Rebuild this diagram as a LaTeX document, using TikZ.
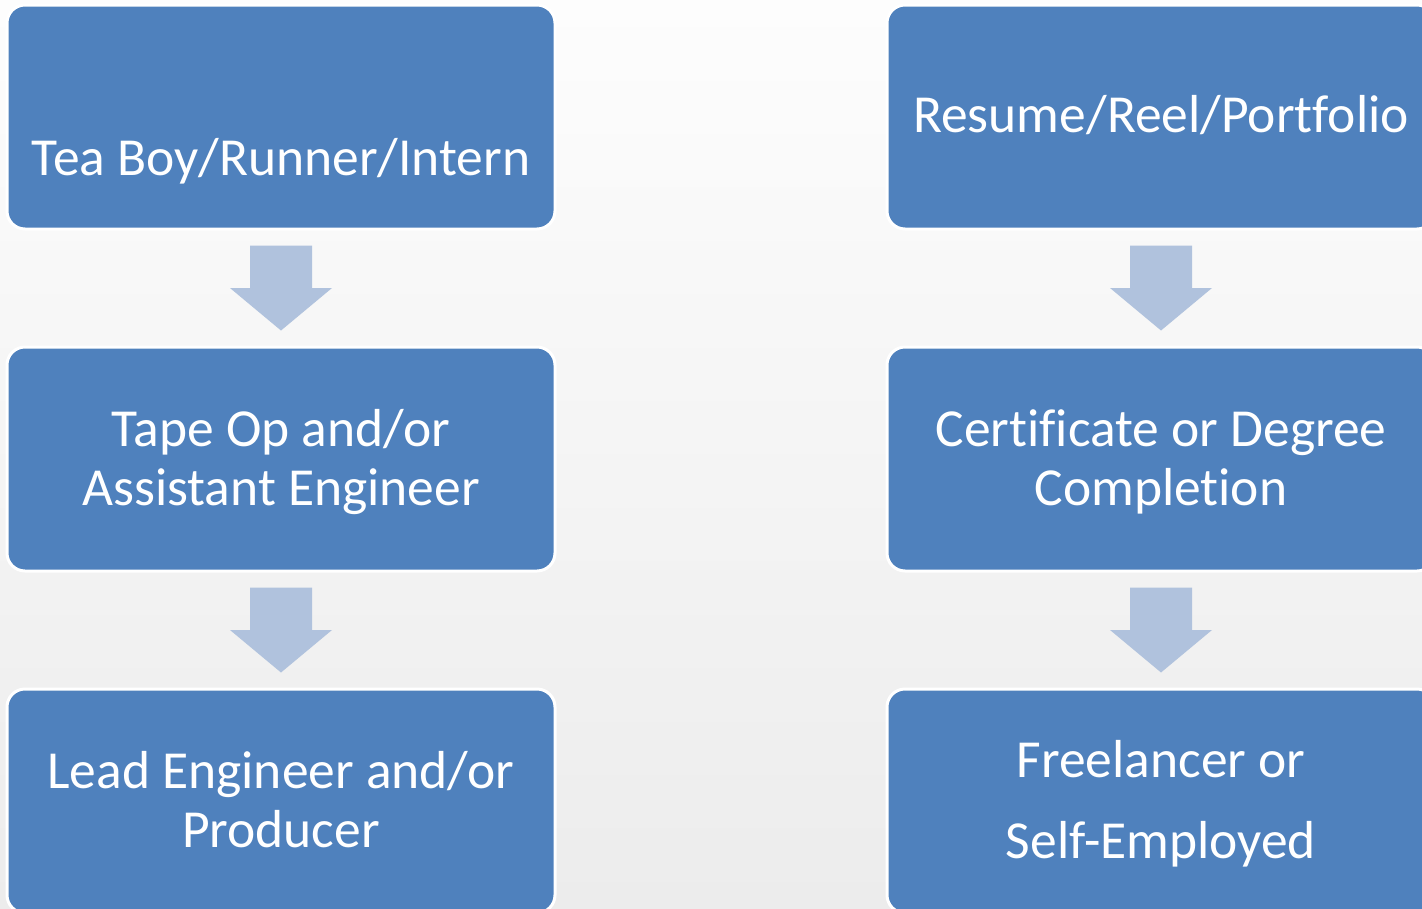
\documentclass[tikz,border=0pt]{standalone}
\usepackage{fontspec}
\setmainfont{Carlito}[RawFeature={-liga,-dlig,-clig}]
\usetikzlibrary{calc}
\definecolor{boxblue}{HTML}{4F81BD}
\definecolor{arrowblue}{HTML}{B0C2DD}
\definecolor{bgtop}{HTML}{FDFDFD}
\definecolor{bgbottom}{HTML}{ECECEC}
\begin{document}
\begin{tikzpicture}[x=1pt,y=-1pt,
  stepbox/.style={draw=white, line width=3pt, fill=boxblue, rounded corners=18pt,
    minimum width=548pt, minimum height=224pt, inner sep=0pt},
  lbl/.style={text=white, font=\fontsize{53.5}{60}\selectfont, inner sep=0pt, anchor=base},
  downarrow/.pic={\fill[arrowblue] (-31,-42.5) -- (31,-42.5) -- (31,0) -- (51,0)
      -- (0,42.5) -- (-51,0) -- (-31,0) -- cycle;}]
% page frame and background
\useasboundingbox (0,0) rectangle (1422,908);
\clip (0,0) rectangle (1422,908);
\shade[top color=bgtop, bottom color=bgbottom] (0,0) rectangle (1422,908);

% left column: studio career path
\node[stepbox] (l1) at (281,117) {};
\node[stepbox] (l2) at (281,459) {};
\node[stepbox] (l3) at (281,801) {};
% right column: education path
\node[stepbox] (r1) at (1161,117) {};
\node[stepbox] (r2) at (1161,459) {};
\node[stepbox] (r3) at (1161,801) {};

% labels
\node[lbl] (t1) at (281,175) {Tea Boy/Runner/Intern};
\node[lbl] (t2a) at (281,446) {Tape Op and/or};
\node[lbl] (t2b) at (281,505) {Assistant Engineer};
\node[lbl] (t3a) at (281,788) {Lead Engineer and/or};
\node[lbl] (t3b) at (281,847) {Producer};
\node[lbl] (u1) at (1161,132) {Resume/Reel/Portfolio};
\node[lbl] (u2a) at (1161,446) {Certificate or Degree};
\node[lbl] (u2b) at (1161,505) {Completion};
\node[lbl] (u3a) at (1161,777) {Freelancer or};
\node[lbl] (u3b) at (1161,858) {Self-Employed};

% block arrows between consecutive steps
\foreach \a/\b in {l1/l2, l2/l3, r1/r2, r2/r3}{
  \path ($(\a.center)!0.5!(\b.center)$) pic {downarrow};
}
\end{tikzpicture}
\end{document}
